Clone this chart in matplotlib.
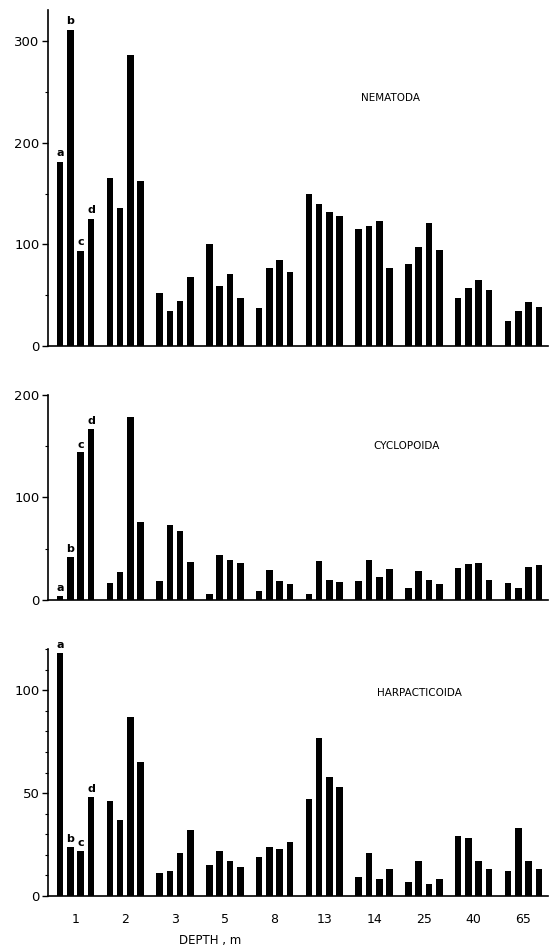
import numpy as np
import matplotlib
matplotlib.use('Agg')
import matplotlib.pyplot as plt
from matplotlib.ticker import MultipleLocator

depths = ['1', '2', '3', '5', '8', '13', '14', '25', '40', '65']
sub_labels = ['a', 'b', 'c', 'd']

# значения по глубинам, по 4 столбика (a, b, c, d) на глубину
nematoda = [181, 311, 94, 125,
            165, 136, 286, 162,
            52, 35, 44, 68,
            100, 59, 71, 47,
            38, 77, 85, 73,
            150, 140, 132, 128,
            115, 118, 123, 77,
            81, 98, 121, 95,
            47, 57, 65, 55,
            25, 35, 43, 39]
cyclopoida = [4, 42, 144, 167,
              16, 27, 178, 76,
              18, 73, 67, 37,
              6, 44, 39, 36,
              9, 29, 18, 15,
              6, 38, 19, 17,
              18, 39, 22, 30,
              11, 28, 19, 15,
              31, 35, 36, 19,
              16, 11, 32, 34]
harpacticoida = [118, 24, 22, 48,
                 46, 37, 87, 65,
                 11, 12, 21, 32,
                 15, 22, 17, 14,
                 19, 24, 23, 26,
                 47, 77, 58, 53,
                 9, 21, 8, 13,
                 7, 17, 6, 8,
                 29, 28, 17, 13,
                 12, 33, 17, 13]

panels = [
    ('NEMATODA', nematoda, 330, 100, 50, [0.0863, 0.634, 0.899, 0.355], (0.685, 0.738)),
    ('CYCLOPOIDA', cyclopoida, 200, 100, 50, [0.0863, 0.366, 0.899, 0.2167], (0.717, 0.751)),
    ('HARPACTICOIDA', harpacticoida, 120, 50, 10, [0.0863, 0.0529, 0.899, 0.261], (0.744, 0.822)),
]

GROUP_STEP = 4.83
x = np.array([g * GROUP_STEP + i for g in range(len(depths)) for i in range(4)])

fig = plt.figure(figsize=(5.56, 9.46), dpi=100)

for k, (name, vals, ymax, major, minor, rect, title_xy) in enumerate(panels):
    ax = fig.add_axes(rect)
    ax.bar(x, vals, width=0.64, color='black', align='center')
    ax.set_xlim(-1.17, 47.34)
    ax.set_ylim(0, ymax)
    for s in ['top', 'right']:
        ax.spines[s].set_visible(False)
    ax.spines['left'].set_linewidth(1.2)
    ax.spines['bottom'].set_linewidth(1.2)
    ax.yaxis.set_major_locator(MultipleLocator(major))
    ax.yaxis.set_minor_locator(MultipleLocator(minor))
    ax.tick_params(axis='y', which='major', length=4, width=1, labelsize=9.5, pad=2)
    ax.tick_params(axis='y', which='minor', length=2.5, width=0.8)
    ax.text(title_xy[0], title_xy[1], name, transform=ax.transAxes,
            ha='center', va='center', fontsize=7.5)
    # буквы a-d над первой группой
    for i in range(4):
        ax.text(x[i], vals[i] + ymax * 0.012, sub_labels[i], ha='center', va='bottom',
                fontsize=8, fontweight='bold')
    if k == 2:
        centers = [g * GROUP_STEP + 1.5 for g in range(len(depths))]
        ax.set_xticks(centers)
        ax.set_xticklabels(depths, fontsize=9)
        ax.tick_params(axis='x', length=0, pad=12)
    else:
        ax.set_xticks([])

fig.text(210 / 556, 1 - 940 / 946, 'DEPTH , m', ha='center', va='center', fontsize=8.5)

fig.savefig('out.png', dpi=100)
